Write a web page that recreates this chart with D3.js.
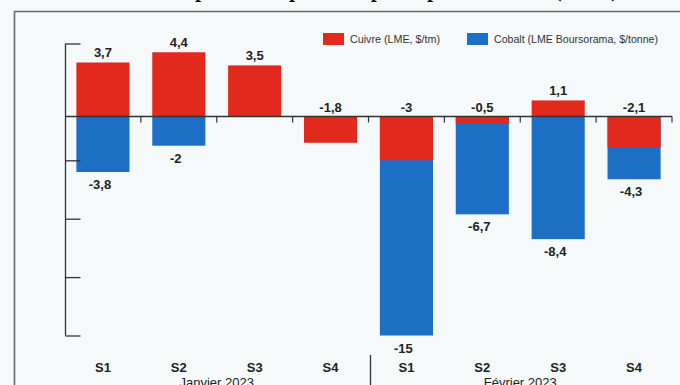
<!DOCTYPE html>
<html lang="fr">
<head>
<meta charset="utf-8">
<script src="https://cdn.jsdelivr.net/npm/d3@7"></script>
<style>
  html, body { margin: 0; padding: 0; background: #f5f9f9; }
  svg { display: block; }
</style>
</head>
<body>
<svg id="chart" width="680" height="385"></svg>
<script>
// Weekly change in metal prices (%), January and February 2023
const weeks = ["S1", "S2", "S3", "S4", "S1", "S2", "S3", "S4"];
const months = ["Janvier 2023", "Février 2023"];
const cuivre = [3.7, 4.4, 3.5, -1.8, -3, -0.5, 1.1, -2.1];
const cobalt = [-3.8, -2, 0, 0, -15, -6.7, -8.4, -4.3];
const cuivreLabels = ["3,7", "4,4", "3,5", "-1,8", "-3", "-0,5", "1,1", "-2,1"];
const cobaltLabels = ["-3,8", "-2", "", "", "-15", "-6,7", "-8,4", "-4,3"];
const yTicks = [5, -3, -7, -11, -15];
const seriesNames = ["Cuivre (LME, $/tm)", "Cobalt (LME Boursorama, $/tonne)"];

const RED = "#e2291d";
const BLUE = "#1d6fc6";
const svg = d3.select("#chart");

// Frame and heading (sits above the visible area, only its lowest strokes show)
svg.append("text")
  .attr("x", 340).attr("y", -3)
  .attr("text-anchor", "middle")
  .attr("font-family", "Liberation Serif, DejaVu Serif, serif")
  .attr("font-size", 22).attr("font-weight", "bold")
  .attr("fill", "#111")
  .text("Évolution des prix à l'export des principaux métaux (en %)");

svg.append("path")
  .attr("d", "M14.5,385 V11.5 H680")
  .attr("fill", "none").attr("stroke", "#6a6a6a").attr("stroke-width", 1.6);

const idx = d3.range(weeks.length);
const x = d3.scaleBand().domain(idx).range([65, 672]).paddingInner(0.3).paddingOuter(0.15);
const y = d3.scaleLinear().domain([-15, 5]).range([335.5, 43.5]);
const step = x.step();

// Cobalt bars first, copper drawn over them
svg.append("g").selectAll("rect").data(idx.filter(i => cobalt[i] !== 0)).join("rect")
  .attr("x", i => x(i)).attr("width", x.bandwidth())
  .attr("y", i => y(Math.max(0, cobalt[i])))
  .attr("height", i => Math.abs(y(cobalt[i]) - y(0)))
  .attr("fill", BLUE);

svg.append("g").selectAll("rect").data(idx).join("rect")
  .attr("x", i => x(i)).attr("width", x.bandwidth())
  .attr("y", i => y(Math.max(0, cuivre[i])))
  .attr("height", i => Math.abs(y(cuivre[i]) - y(0)))
  .attr("fill", RED);

// Vertical axis: ticks turned inward, no labels
const yAxis = svg.append("g").attr("transform", "translate(65.5,0)")
  .call(d3.axisRight(y).tickValues(yTicks).tickSize(15).tickFormat(""));
yAxis.select(".domain").attr("d", `M0,${y(5)} V${y(-15)}`).attr("stroke", "#333").attr("stroke-width", 1.3);
yAxis.selectAll(".tick line").attr("stroke", "#333").attr("stroke-width", 1.3);

// Zero line with category separators
const zero = svg.append("g");
zero.append("line")
  .attr("x1", 65).attr("x2", 672).attr("y1", y(0)).attr("y2", y(0))
  .attr("stroke", "#333").attr("stroke-width", 1.3);
zero.selectAll("line.sep").data(d3.range(1, weeks.length + 1)).join("line")
  .attr("class", "sep")
  .attr("x1", k => 65 + k * step).attr("x2", k => 65 + k * step)
  .attr("y1", y(0)).attr("y2", y(0) + 6)
  .attr("stroke", "#333").attr("stroke-width", 1.2);

// Value labels
const labelFont = "Liberation Sans, Arial, sans-serif";
svg.append("g").selectAll("text").data(idx).join("text")
  .attr("x", i => x(i) + x.bandwidth() / 2)
  .attr("y", i => cuivre[i] > 0 ? y(cuivre[i]) - 5 : y(0) - 5)
  .attr("text-anchor", "middle")
  .attr("font-family", labelFont).attr("font-size", 13).attr("font-weight", "bold")
  .attr("fill", "#222")
  .text(i => cuivreLabels[i]);

svg.append("g").selectAll("text").data(idx.filter(i => cobaltLabels[i] !== "")).join("text")
  .attr("x", i => x(i) + x.bandwidth() / 2 - 3)
  .attr("y", i => y(cobalt[i]) + 17)
  .attr("text-anchor", "middle")
  .attr("font-family", labelFont).attr("font-size", 13).attr("font-weight", "bold")
  .attr("fill", "#222")
  .text(i => cobaltLabels[i]);

// Category labels and month groups
svg.append("g").selectAll("text").data(idx).join("text")
  .attr("x", i => x(i) + x.bandwidth() / 2)
  .attr("y", 372)
  .attr("text-anchor", "middle")
  .attr("font-family", labelFont).attr("font-size", 13).attr("font-weight", "bold")
  .attr("fill", "#222")
  .text(i => weeks[i]);

svg.append("g").selectAll("text").data(months).join("text")
  .attr("x", (d, m) => 65 + (m * 4 + 2) * step)
  .attr("y", 387)
  .attr("text-anchor", "middle")
  .attr("font-family", labelFont).attr("font-size", 13)
  .attr("fill", "#222")
  .text(d => d);

svg.append("line")
  .attr("x1", 65 + 4 * step + 2).attr("x2", 65 + 4 * step + 2)
  .attr("y1", 355).attr("y2", 385)
  .attr("stroke", "#333").attr("stroke-width", 1.3);

// Legend
const legend = svg.append("g").attr("font-family", "Liberation Sans Narrow, Arial Narrow, Liberation Sans, sans-serif")
  .attr("font-size", 11).attr("fill", "#333");
const legendItems = [
  { name: seriesNames[0], color: RED, x: 323, w: 90 },
  { name: seriesNames[1], color: BLUE, x: 467, w: 164 }
];
legendItems.forEach(d => {
  legend.append("rect").attr("x", d.x).attr("y", 33).attr("width", 21).attr("height", 12).attr("fill", d.color);
  legend.append("text").attr("x", d.x + 27).attr("y", 43)
    .attr("textLength", d.w).attr("lengthAdjust", "spacingAndGlyphs")
    .text(d.name);
});
</script>
</body>
</html>
